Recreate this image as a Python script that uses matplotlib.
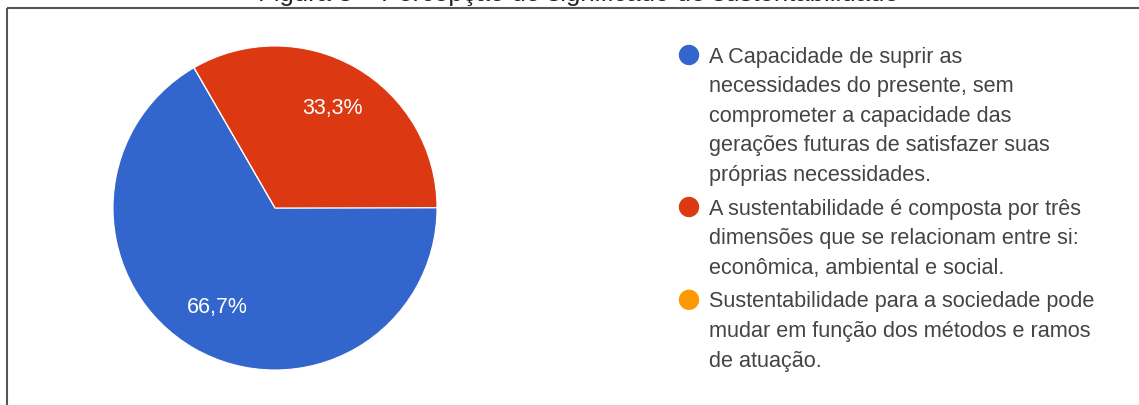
import matplotlib
matplotlib.use('Agg')
import matplotlib.pyplot as plt

plt.rcParams['font.family'] = ['Liberation Sans', 'DejaVu Sans']

# dados do grafico (Google Forms)
titulo = 'Figura 3 – Percepção do significado de sustentabilidade'
respostas = [
    'A Capacidade de suprir as\nnecessidades do presente, sem\ncomprometer a capacidade das\ngerações futuras de satisfazer suas\npróprias necessidades.',
    'A sustentabilidade é composta por três\ndimensões que se relacionam entre si:\neconômica, ambiental e social.',
    'Sustentabilidade para a sociedade pode\nmudar em função dos métodos e ramos\nde atuação.',
]
percentuais = [66.7, 33.3, 0.0]
cores = ['#3366cc', '#dc3912', '#ff9900']

W, H = 1139, 405
fig = plt.figure(figsize=(W / 100, H / 100), dpi=100)

# titulo cortado no topo da imagem
fig.text(0.5075, 1.0 - 0.9 / H, titulo, ha='center', va='baseline', fontsize=18.5, color='#222222')

# moldura (so topo e esquerda aparecem)
moldura = fig.add_axes([0, 0, 1, 1])
moldura.set_xlim(0, W)
moldura.set_ylim(H, 0)
moldura.axis('off')
moldura.plot([7, W], [8, 8], color='#555555', lw=1.5, solid_capstyle='butt')
moldura.plot([7, 7], [8, H], color='#555555', lw=1.5, solid_capstyle='butt')

# pizza
cx, cy, r = 275, 208, 162
ax = fig.add_axes([(cx - r) / W, (H - cy - r) / H, 2 * r / W, 2 * r / H])
ax.pie(percentuais, colors=cores, startangle=120, counterclock=True,
       autopct=lambda p: ('%.1f%%' % p).replace('.', ',') if p > 0 else '',
       pctdistance=0.71, textprops={'color': 'white', 'fontsize': 15.5},
       wedgeprops={'edgecolor': 'white', 'linewidth': 0.8})
ax.set_xlim(-1, 1)
ax.set_ylim(-1, 1)

# legenda
y0, passo, gap = 55, 29.6, 4
linha = 0
for i, (txt, cor) in enumerate(zip(respostas, cores)):
    yi = y0 + passo * linha + gap * i
    moldura.scatter([689], [yi], s=215, color=cor, edgecolors='none')
    for j, parte in enumerate(txt.split('\n')):
        moldura.text(709, yi + passo * j + 7.5, parte, fontsize=15.6, color='#444444',
                     ha='left', va='baseline')
    linha += len(txt.split('\n'))

fig.savefig('out.png', dpi=100)
